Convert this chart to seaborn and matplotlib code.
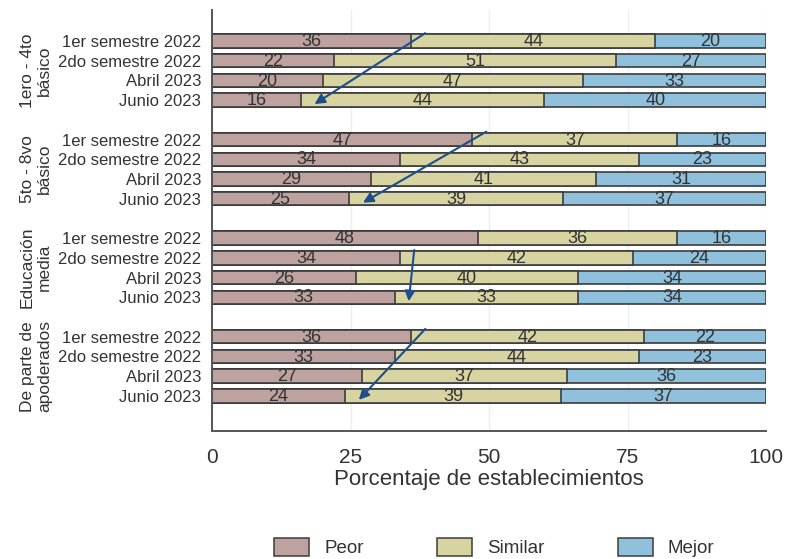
import numpy as np
import pandas as pd
import matplotlib
matplotlib.use("Agg")
import matplotlib.pyplot as plt
import matplotlib.transforms as mtransforms
import seaborn as sns

# Datos
grupos = ["1ero - 4to\nbásico", "5to - 8vo\nbásico", "Educación\nmedia", "De parte de\napoderados"]
periodos = ["1er semestre 2022", "2do semestre 2022", "Abril 2023", "Junio 2023"]
peor = [36, 22, 20, 16, 47, 34, 29, 25, 48, 34, 26, 33, 36, 33, 27, 24]
similar = [44, 51, 47, 44, 37, 43, 41, 39, 36, 42, 40, 33, 42, 44, 37, 39]
mejor = [20, 27, 33, 40, 16, 23, 31, 37, 16, 24, 34, 34, 22, 23, 36, 37]
categorias = ["Peor", "Similar", "Mejor"]
colores = ["#bda29f", "#d8d4a2", "#8fc1dc"]
# flechas: (barra desde, barra hasta), indices de la lista de barras
flechas = [(0, 3), (4, 7), (9, 11), (12, 15)]

sns.set_style("white")
plt.rcParams["font.family"] = ["Liberation Sans", "DejaVu Sans"]
texto = "#333333"
borde = "#3c3c3c"

# posiciones: 4 filas por grupo y una fila vacia entre grupos
pos = [g * 5 + j for g in range(len(grupos)) for j in range(len(periodos))]
vals = np.array([peor, similar, mejor], dtype=float)
shares = vals / vals.sum(axis=0) * 100
cum = np.cumsum(shares, axis=0)

df = pd.DataFrame({"pos": pos, "c1": cum[0], "c2": cum[1], "c3": cum[2]})

fig = plt.figure(figsize=(7.87, 5.59), dpi=100)
ax = fig.add_axes([0.2694, 0.229, 0.704, 0.753])

# barras apiladas: se dibuja el total y encima los acumulados
for col, color in zip(["c3", "c2", "c1"], colores[::-1]):
    sns.barplot(data=df, x=col, y="pos", orient="y", native_scale=True,
                color=color, saturation=1, edgecolor=borde, linewidth=1.2,
                width=0.68, errorbar=None, ax=ax, zorder=2)

# etiquetas de valores
for k in range(vals.shape[0]):
    izq = cum[k] - shares[k]
    for i, p in enumerate(pos):
        ax.text(izq[i] + shares[k][i] / 2, p + 0.03, f"{int(vals[k][i])}",
                ha="center", va="center", fontsize=13, color=texto, zorder=4)

# flechas
for a, b in flechas:
    ax.annotate("", xy=(cum[0][b] + 2.5, pos[b] + 0.2),
                xytext=(cum[0][a] + 2.5, pos[a] - 0.4),
                arrowprops=dict(arrowstyle="-|>", color="#1f4e8c", lw=1.5,
                                mutation_scale=15, shrinkA=0, shrinkB=0),
                zorder=5)

ax.set_xlim(0, 100)
ax.set_ylim(19.78, -1.57)
ax.set_xticks([0, 25, 50, 75, 100])
ax.set_xticklabels(["0", "25", "50", "75", "100"], fontsize=15, color=texto)
ax.set_yticks(pos)
ax.set_yticklabels(periodos * len(grupos), fontsize=12, color=texto)
ax.tick_params(axis="y", length=0, pad=8)
ax.tick_params(axis="x", length=6, width=1.2, color="#555555", pad=6)
ax.set_xlabel("Porcentaje de establecimientos", fontsize=16, color=texto, labelpad=2)
ax.set_ylabel("")

ax.grid(axis="x", color="#e9f0f2", linewidth=1)
ax.grid(axis="y", visible=False)
ax.set_axisbelow(True)
for s in ["top", "right"]:
    ax.spines[s].set_visible(False)
for s in ["left", "bottom"]:
    ax.spines[s].set_color("#555555")
    ax.spines[s].set_linewidth(1.4)

# nombres de grupos (rotados)
trans = mtransforms.blended_transform_factory(ax.transAxes, ax.transData)
for g, nombre in enumerate(grupos):
    centro = np.mean(pos[g * 4:(g + 1) * 4])
    ax.text(-0.318, centro, nombre, transform=trans, rotation=90, ha="center",
            va="center", multialignment="center", fontsize=12.5, color=texto,
            linespacing=1.2)

# leyenda
handles = [plt.Rectangle((0, 0), 1, 1, facecolor=c, edgecolor=borde, linewidth=1.1)
           for c in colores]
fig.legend(handles, categorias, loc="center", bbox_to_anchor=(0.628, 0.02), ncol=3,
           frameon=False, fontsize=13.5, handlelength=1.87, handleheight=1.07,
           handletextpad=0.8, columnspacing=3.9, borderpad=0, labelcolor=texto)

fig.savefig("out.png", dpi=100)
